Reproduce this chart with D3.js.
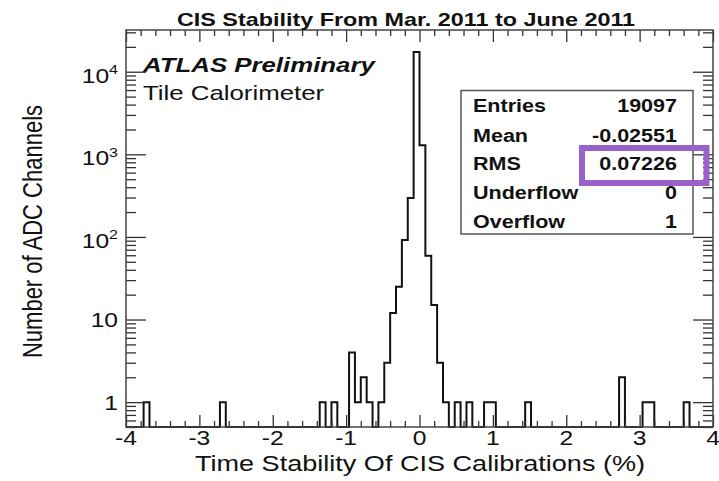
<!DOCTYPE html>
<html>
<head>
<meta charset="utf-8">
<script src="https://cdn.jsdelivr.net/npm/d3@7"></script>
<style>
  html, body { margin: 0; padding: 0; background: #fff; }
  svg { display: block; }
  text { font-family: "Liberation Sans", Arial, Helvetica, sans-serif; fill: #111; }
</style>
</head>
<body>
<svg id="chart" width="719" height="481"></svg>
<script>
// ---- chart data ----
const chartTitle = "CIS Stability From Mar. 2011 to June 2011";
const xAxisTitle = "Time Stability Of CIS Calibrations (%)";
const yAxisTitle = "Number of ADC Channels";
const xRange = [-4, 4];            // histogram range, 100 bins of 0.08
const yRange = [0.5, 32000];
// counts per bin, from -4 to +4
const binCounts = [
  0, 0, 0, 1, 0, 0, 0, 0, 0, 0,   0, 0, 0, 0, 0, 0, 1, 0, 0, 0,
  0, 0, 0, 0, 0, 0, 0, 0, 0, 0,   0, 0, 0, 1, 0, 1, 0, 0, 4, 1,
  2, 1, 0, 1, 3, 12, 25, 92, 295, 17278,
  1290, 59, 15, 3, 1, 0, 1, 0, 1, 0,
  0, 1, 1, 0, 0, 0, 0, 0, 1, 0,   0, 0, 0, 0, 0, 0, 0, 0, 0, 0,
  0, 0, 0, 0, 2, 0, 0, 0, 1, 1,   0, 0, 0, 0, 0, 1, 0, 0, 0, 0
];
const xTickValues = [-4, -3, -2, -1, 0, 1, 2, 3, 4];
const yTickValues = [1, 10, 100, 1000, 10000];
const yTickBase = ["1", "10", "10", "10", "10"];
const yTickExp = ["", "", "2", "3", "4"];
const statNames = ["Entries", "Mean", "RMS", "Underflow", "Overflow"];
const statValues = ["19097", "-0.02551", "0.07226", "0", "1"];
const labelMain = "ATLAS Preliminary";
const labelSub = "Tile Calorimeter";

// ---- layout ----
const F = { left: 126, right: 713, top: 30, bottom: 427 };
const SX = 1.23;   // glyphs are drawn horizontally widened
const svg = d3.select("#chart");

const x = d3.scaleLinear().domain(xRange).range([F.left, F.right]);
const y = d3.scaleLog().domain(yRange).range([F.bottom, F.top]);

function stretchedText(parent, px, py, str, opts = {}) {
  const t = parent.append("text")
    .attr("transform", `translate(${px},${py}) scale(${SX},1)${opts.rotate ? " rotate(" + opts.rotate + ")" : ""}`)
    .attr("text-anchor", opts.anchor || "start")
    .attr("font-size", opts.size || 20)
    .attr("font-weight", opts.weight || "normal")
    .attr("font-style", opts.style || "normal")
    .text(str);
  return t;
}

// ---- histogram outline ----
const nBins = binCounts.length;
const bw = (xRange[1] - xRange[0]) / nBins;
const pts = [[x(xRange[0]), F.bottom]];
binCounts.forEach((c, i) => {
  const lo = xRange[0] + i * bw, hi = lo + bw;
  const yy = c > 0 ? y(c) : F.bottom;
  pts.push([x(lo), yy], [x(hi), yy]);
});
pts.push([x(xRange[1]), F.bottom]);

svg.append("path")
  .attr("d", d3.line()(pts))
  .attr("fill", "none")
  .attr("stroke", "#111")
  .attr("stroke-width", 2)
  .attr("stroke-linejoin", "miter");

// ---- axes ticks (drawn inward on all four sides) ----
const yMinor = [];
[0.1, 1, 10, 100, 1000, 10000].forEach(d => {
  for (let m = 2; m <= 9; m++) {
    const v = m * d;
    if (v >= yRange[0] && v <= yRange[1]) yMinor.push(v);
  }
});
const xMinor = d3.range(-40, 41, 2).map(v => v / 10).filter(v => !Number.isInteger(v));

function tickGroup(axis, tx, ty) {
  const g = svg.append("g").attr("transform", `translate(${tx},${ty})`).call(axis);
  g.select(".domain").remove();
  g.selectAll("line").attr("stroke", "#333").attr("stroke-width", 1.3);
  g.selectAll("text").remove();
  return g;
}
tickGroup(d3.axisLeft(y).tickValues(yTickValues).tickSize(-20).tickSizeOuter(0), F.left, 0);
tickGroup(d3.axisLeft(y).tickValues(yMinor).tickSize(-10).tickSizeOuter(0), F.left, 0);
tickGroup(d3.axisRight(y).tickValues(yTickValues).tickSize(-20).tickSizeOuter(0), F.right, 0);
tickGroup(d3.axisRight(y).tickValues(yMinor).tickSize(-10).tickSizeOuter(0), F.right, 0);
tickGroup(d3.axisBottom(x).tickValues(xTickValues).tickSize(-12).tickSizeOuter(0), 0, F.bottom);
tickGroup(d3.axisBottom(x).tickValues(xMinor).tickSize(-6).tickSizeOuter(0), 0, F.bottom);
tickGroup(d3.axisTop(x).tickValues(xTickValues).tickSize(-12).tickSizeOuter(0), 0, F.top);
tickGroup(d3.axisTop(x).tickValues(xMinor).tickSize(-6).tickSizeOuter(0), 0, F.top);

// frame
svg.append("rect")
  .attr("x", F.left).attr("y", F.top)
  .attr("width", F.right - F.left).attr("height", F.bottom - F.top)
  .attr("fill", "none").attr("stroke", "#444").attr("stroke-width", 1.5);

// ---- tick labels ----
xTickValues.forEach(v => {
  stretchedText(svg, x(v), 445, String(v), { anchor: "middle", size: 20 });
});
yTickValues.forEach((v, i) => {
  const hasExp = yTickExp[i] !== "";
  const t = stretchedText(svg, 118 / 1, y(v) + (hasExp ? 11 : 7.5), "", { anchor: "end", size: 20 });
  t.attr("transform", `translate(118,${y(v) + (hasExp ? 11 : 7.5)}) scale(${SX},1)`);
  t.append("tspan").text(yTickBase[i]);
  if (hasExp) t.append("tspan").attr("font-size", 13).attr("dy", -8.5).text(yTickExp[i]);
});

// ---- titles ----
stretchedText(svg, 406, 26, chartTitle, { anchor: "middle", size: 19, weight: "bold" });
stretchedText(svg, 420, 471, xAxisTitle, { anchor: "middle", size: 22 });
stretchedText(svg, 41.5, 231.5, yAxisTitle, { anchor: "middle", size: 22, rotate: -90 });

// ---- experiment labels ----
stretchedText(svg, 143, 72, labelMain, { size: 21, weight: "bold", style: "italic" });
stretchedText(svg, 143, 100, labelSub, { size: 21 });

// ---- statistics box ----
const box = { x0: 461, x1: 693, y0: 90.5, y1: 234 };
svg.append("rect")
  .attr("x", box.x0).attr("y", box.y0)
  .attr("width", box.x1 - box.x0).attr("height", box.y1 - box.y0)
  .attr("fill", "#fff").attr("stroke", "#555").attr("stroke-width", 1.5);
const rowBaselines = [111.5, 141.5, 170, 198.5, 228];
statNames.forEach((n, i) => {
  stretchedText(svg, 473, rowBaselines[i], n, { size: 17.5, weight: "bold" });
  stretchedText(svg, 677, rowBaselines[i], statValues[i], { size: 17.5, weight: "bold", anchor: "end" });
});

// highlight around the RMS value
svg.append("rect")
  .attr("x", 582).attr("y", 148)
  .attr("width", 124.5).attr("height", 35)
  .attr("fill", "none").attr("stroke", "#9a62c9").attr("stroke-width", 6);
</script>
</body>
</html>
